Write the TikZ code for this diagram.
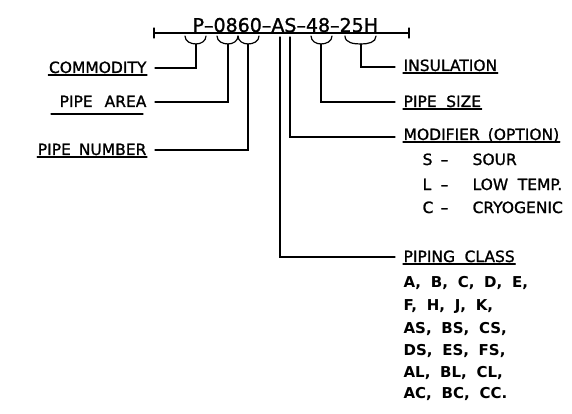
\documentclass[tikz,border=0pt]{standalone}
\usepackage{fontspec}
\setmainfont{DejaVu Sans}
\newfontfamily\medfont{DejaVu Sans}[FakeBold=1.2]
\begin{document}
\begin{tikzpicture}[x=1pt,y=-1pt,line width=1.2pt,line cap=round,
  lbl/.style={inner sep=0pt,font=\medfont\fontsize{15.5}{18}\selectfont},
  opt/.style={inner sep=0pt,font=\medfont\fontsize{15.5}{18}\selectfont},
  lst/.style={inner sep=0pt,font=\bfseries\fontsize{15}{18}\selectfont},
  ttl/.style={inner sep=0pt,font=\medfont\fontsize{19}{23}\selectfont},
  ul/.style={line width=1.3pt}]
\useasboundingbox (0,0) rectangle (572,414);
% title and dimension line
\node[ttl,anchor=base west] (title) at (192,32) {P–0860–AS–48–25H};
\coordinate (L) at (154,33);
\coordinate (R) at (409,33);
\draw (L) -- (R);
\draw ([yshift=5pt]L) -- ([yshift=-5pt]L);
\draw ([yshift=5pt]R) -- ([yshift=-5pt]R);
% braces
\coordinate (b1) at (196,44);
\coordinate (b2) at (228,44);
\coordinate (b3) at (248,44);
\coordinate (b4) at (321,44);
\coordinate (b5) at (361,44);
\draw (185,36) to[out=-90,in=180] (b1) to[out=0,in=-90] (206,36);
\draw (217,36) to[out=-90,in=180] (b2) to[out=0,in=-90] (238,36);
\draw (238,36) to[out=-90,in=180] (b3) to[out=0,in=-90] (259,36);
\draw (311,36) to[out=-90,in=180] (b4) to[out=0,in=-90] (332,36);
\draw (345,36) to[out=-90,in=180] (b5) to[out=0,in=-90] (376,36);
\coordinate (a1) at (280,37);
\coordinate (a2) at (290,37);
% left labels
\node[lbl,anchor=base east] (com) at (147,73) {COMMODITY};
\node[lbl,anchor=base east] (area) at (147,107) {PIPE\hspace{0.45em} AREA};
\node[lbl,anchor=base east] (num) at (147,155) {PIPE\hspace{0.2em} NUMBER};
\draw[ul] ([yshift=-2pt]com.base west) -- ([yshift=-2pt]com.base east);
\draw[ul] ([xshift=-8pt,yshift=-7pt]area.base west) -- ([xshift=-4pt,yshift=-7pt]area.base east);
\draw[ul] ([yshift=-2pt]num.base west) -- ([yshift=-2pt]num.base east);
\coordinate (c1) at (155,68);
\coordinate (c2) at (155,102);
\coordinate (c3) at (155,150);
\draw (b1) |- (c1);
\draw (b2) |- (c2);
\draw (b3) |- (c3);
% right labels
\node[lbl,anchor=base west] (ins) at (403,71) {INSULATION};
\node[lbl,anchor=base west] (size) at (403,107) {PIPE\hspace{0.3em} SIZE};
\node[lbl,anchor=base west] (mod) at (403,140) {MODIFIER\hspace{0.2em} (OPTION)};
\node[lbl,anchor=base west] (cls) at (403,262) {PIPING\hspace{0.3em} CLASS};
\foreach \n in {ins,size,mod,cls}
  \draw[ul] ([yshift=-2pt]\n.base west) -- ([yshift=-2pt]\n.base east);
\coordinate (d1) at (395,67);
\coordinate (d2) at (395,102);
\coordinate (d3) at (395,137);
\coordinate (d4) at (395,257);
\draw (b5) |- (d1);
\draw (b4) |- (d2);
\draw (a2) |- (d3);
\draw (a1) |- (d4);
% modifier options
\node[opt,anchor=base west] (s1) at (422,165) {S};
\node[opt,anchor=base west] (s2) at (440,165) {–};
\node[opt,anchor=base west] (s3) at (472,165) {SOUR};
\node[opt,anchor=base west] (l1) at (422,190) {L};
\node[opt,anchor=base west] (l2) at (440,190) {–};
\node[opt,anchor=base west] (l3) at (472,190) {LOW\hspace{0.3em} TEMP.};
\node[opt,anchor=base west] (k1) at (422,213) {C};
\node[opt,anchor=base west] (k2) at (440,213) {–};
\node[opt,anchor=base west] (k3) at (472,213) {CRYOGENIC};
% piping class list
\node[lst,anchor=base west] (r1) at (403,287) {A,\hspace{0.3em} B,\hspace{0.3em} C,\hspace{0.3em} D,\hspace{0.3em} E,};
\node[lst,anchor=base west] (r2) at (403,310) {F,\hspace{0.3em} H,\hspace{0.3em} J,\hspace{0.3em} K,};
\node[lst,anchor=base west] (r3) at (403,333) {AS,\hspace{0.3em} BS,\hspace{0.3em} CS,};
\node[lst,anchor=base west] (r4) at (403,355) {DS,\hspace{0.3em} ES,\hspace{0.3em} FS,};
\node[lst,anchor=base west] (r5) at (403,377) {AL,\hspace{0.3em} BL,\hspace{0.3em} CL,};
\node[lst,anchor=base west] (r6) at (403,398) {AC,\hspace{0.3em} BC,\hspace{0.3em} CC.};
\end{tikzpicture}
\end{document}
